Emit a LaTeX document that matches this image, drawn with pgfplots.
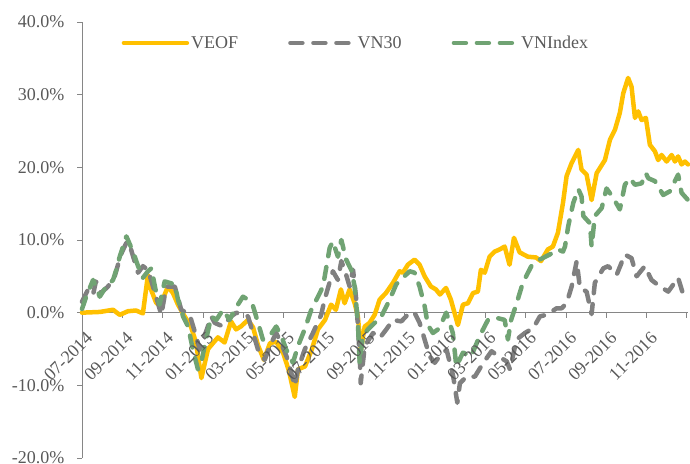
\documentclass[border=0pt]{standalone}
\usepackage{fontspec}
\setmainfont{Liberation Serif}
\usepackage{pgfplots}
\pgfplotsset{compat=1.18}
\definecolor{veof}{RGB}{255,192,0}
\definecolor{vnthirty}{RGB}{128,128,128}
\definecolor{vnindex}{RGB}{112,163,115}
\definecolor{axisgray}{RGB}{134,134,134}
\definecolor{textgray}{RGB}{89,89,89}
\tikzset{xl/.style={rotate=45, anchor=north east, inner sep=0pt, font=\fontsize{18}{20}\selectfont, text=textgray}}
\begin{document}
\begin{tikzpicture}
\useasboundingbox (0,0) rectangle (690pt,463pt);
\begin{axis}[
  at={(82pt,5pt)}, anchor=south west,
  scale only axis, width=606pt, height=436pt,
  xmin=0, xmax=30.05, ymin=-20, ymax=40,
  axis y line=left, axis x line=middle,
  hide obscured x ticks=false,
  axis line style={-, draw=axisgray, line width=1pt},
  every inner x axis line/.append style={-},
  every outer y axis line/.append style={-},
  tick align=outside, major tick length=5pt,
  tick style={draw=axisgray, line width=1pt},
  ytick={-20,-10,0,10,20,30,40},
  yticklabels={-20.0\%,-10.0\%,0.0\%,10.0\%,20.0\%,30.0\%,40.0\%},
  xtick={0,2,4,6,8,10,12,14,16,18,20,22,24,26,28,30},
  xticklabels={,,,,,,,,,,,,,,,},
  ticklabel style={font=\fontsize{18}{20}\selectfont, text=textgray},
  yticklabel style={xshift=-9pt},
  legend style={draw=none, fill=none, at={(0.452,0.952)}, anchor=center,
    font=\fontsize{18}{20}\selectfont, text=textgray,
    /tikz/every even column/.append style={column sep=48pt}},
  legend columns=-1,
  legend image code/.code={\draw[#1] (0pt,0pt) -- (63pt,0pt);},
  clip=false,
]
\addplot[veof, line width=4.5pt, line join=round, line cap=round] coordinates {
(0,0) (0.89,0.1) (1.54,0.4) (1.87,-0.3) (2.28,0.2) (2.68,0.3) (3.02,-0.1) (3.27,5.2) (3.42,3.2) (3.67,1.4) (3.87,0.9) (4.26,3.6) (4.51,2.7) (4.76,1.1) (5.09,-0.5) (5.40,-1.9) (5.65,-4.1) (5.92,-9.0) (6.25,-5.0) (6.74,-3.4) (7.07,-4.1) (7.39,-1.2) (7.64,-2.3) (7.88,-1.9) (8.23,-1.0) (8.48,-2.0) (8.73,-4.5) (9.02,-6.5) (9.32,-4.2) (9.62,-4.0) (9.97,-5.5) (10.26,-8.0) (10.55,-11.6) (10.71,-7.8) (11.06,-7.4) (11.39,-5.1) (11.70,-2.3) (12.05,-1.0) (12.35,1.1) (12.59,0.4) (12.84,3.2) (13.02,1.3) (13.27,3.2) (13.52,1.3) (13.68,-0.5) (13.83,-5.1) (14.02,-1.9) (14.26,-1.4) (14.51,-0.3) (14.76,1.8) (15.07,2.7) (15.42,4.1) (15.75,5.7) (15.91,5.5) (16.16,6.6) (16.49,7.3) (16.74,6.6) (16.99,5.0) (17.30,3.6) (17.55,3.2) (17.75,2.5) (18.05,3.4) (18.29,1.8) (18.64,-1.7) (18.89,1.1) (19.14,1.3) (19.39,2.7) (19.63,2.9) (19.78,5.9) (19.97,5.5) (20.21,7.7) (20.46,8.4) (20.71,8.7) (20.96,9.1) (21.20,6.6) (21.42,10.3) (21.70,8.3) (22.11,7.7) (22.51,7.6) (22.76,7.1) (23.10,8.7) (23.35,9.1) (23.60,11.0) (23.85,15.1) (24.03,18.8) (24.28,20.6) (24.61,22.4) (24.77,19.7) (25.02,19.0) (25.27,15.5) (25.52,19.2) (25.68,19.9) (25.93,21.0) (26.18,23.8) (26.43,25.2) (26.67,27.5) (26.84,30.2) (27.08,32.3) (27.25,31.1) (27.42,26.8) (27.58,27.7) (27.75,26.5) (27.96,26.8) (28.16,23.1) (28.41,22.2) (28.57,21.0) (28.74,21.7) (28.99,20.8) (29.24,21.7) (29.40,20.8) (29.56,21.5) (29.73,20.4) (29.90,20.8) (30.05,20.4)
};
\addlegendentry{VEOF}
\addplot[vnthirty, line width=4.5pt, line join=round, line cap=round, dash pattern=on 12pt off 11pt] coordinates {
(0,1.5) (0.30,3.2) (0.55,2.5) (0.69,4.3) (0.94,2.7) (1.29,3.6) (1.62,5.0) (1.93,8.0) (2.23,9.8) (2.43,8.7) (2.78,5.5) (3.02,6.4) (3.27,5.9) (3.52,3.6) (3.77,1.3) (3.93,-0.3) (4.18,3.6) (4.60,3.6) (4.92,0.4) (5.34,-0.3) (5.59,-2.6) (5.84,-5.1) (6.08,-3.2) (6.41,-0.5) (6.58,-1.4) (6.99,-1.9) (7.40,-0.5) (7.65,0) (7.90,-0.3) (8.23,-0.5) (8.48,-2.8) (8.73,-5.1) (9.06,-6.5) (9.31,-4.6) (9.63,-2.8) (9.88,-4.2) (10.21,-6.5) (10.55,-10.1) (10.71,-7.8) (11.04,-5.1) (11.45,-2.8) (11.86,-0.3) (12.03,1.8) (12.44,5.7) (12.69,4.5) (12.86,7.1) (13.10,5.2) (13.27,3.6) (13.44,5.9) (13.60,1.8) (13.77,-6.0) (13.82,-9.7) (14.02,-4.6) (14.43,-2.8) (14.76,-3.5) (15.09,-2.3) (15.42,-1.0) (15.83,-1.2) (16.25,0) (16.49,0) (16.74,-1.4) (16.99,-3.7) (17.24,-6.0) (17.49,-6.9) (17.73,-6.0) (18.08,-5.1) (18.41,-8.8) (18.61,-12.4) (18.74,-9.7) (19.07,-8.8) (19.48,-8.8) (19.90,-6.9) (20.31,-5.3) (20.64,-6.0) (21.06,-6.7) (21.22,-7.8) (21.55,-3.7) (21.96,-2.8) (22.38,-2.1) (22.71,-0.5) (23.04,-0.3) (23.53,0.6) (23.78,0.6) (24.03,1.3) (24.28,3.6) (24.53,7.1) (24.69,3.4) (25.02,2.9) (25.27,-0.2) (25.43,4.1) (25.85,6.1) (26.09,6.4) (26.51,5.2) (26.92,8.0) (27.25,7.5) (27.50,5.0) (27.91,6.4) (28.24,4.5) (28.66,3.6) (29.07,2.9) (29.56,4.8) (29.81,2.5) (30.05,2.2)
};
\addlegendentry{VN30}
\addplot[vnindex, line width=4.5pt, line join=round, line cap=round, dash pattern=on 12pt off 11pt] coordinates {
(0,0.5) (0.21,2.2) (0.55,4.5) (0.88,2.2) (1.20,3.6) (1.54,4.5) (1.70,5.9) (1.87,7.7) (2.20,10.5) (2.53,8.4) (2.78,6.4) (3.02,4.8) (3.27,5.7) (3.44,6.1) (3.68,2.7) (3.85,1.1) (4.10,4.3) (4.60,3.9) (4.76,1.8) (5.01,-0.5) (5.26,-1.9) (5.50,-5.1) (5.75,-7.8) (5.91,-6.9) (6.08,-4.6) (6.41,-0.5) (6.66,-1.0) (6.99,0.4) (7.32,-1.0) (7.57,0.4) (7.98,2.2) (8.23,1.8) (8.48,0.9) (8.73,-1.4) (8.97,-3.7) (9.31,-3.2) (9.63,-1.9) (9.88,-3.2) (10.13,-5.1) (10.46,-6.9) (10.71,-4.6) (11.04,-2.3) (11.37,0.4) (11.70,2.2) (11.95,3.6) (12.28,8.9) (12.44,9.8) (12.69,7.7) (12.86,10.0) (13.10,7.3) (13.35,5.9) (13.52,3.6) (13.68,-1.4) (13.77,-6.9) (13.93,-3.2) (14.18,-2.3) (14.51,-1.4) (14.76,-1.0) (15.01,0.4) (15.26,1.8) (15.58,3.9) (15.91,4.8) (16.25,5.7) (16.49,5.5) (16.74,3.6) (16.99,0.9) (17.15,-1.7) (17.40,-2.8) (17.65,-2.3) (17.90,-1.0) (18.06,0) (18.39,-2.8) (18.56,-7.4) (18.89,-5.5) (19.30,-6.0) (19.72,-3.2) (20.13,-1.0) (20.54,-0.7) (20.96,-1.0) (21.12,-3.7) (21.28,-1.0) (21.53,1.1) (21.86,4.1) (22.28,6.4) (22.69,7.3) (23.19,8.0) (23.60,8.7) (23.85,8.4) (23.95,9.1) (24.11,11.9) (24.36,15.1) (24.61,17.0) (24.77,16.0) (24.86,13.3) (25.19,12.3) (25.27,9.1) (25.43,13.3) (25.77,14.4) (26.01,17.1) (26.34,15.8) (26.67,14.2) (26.92,17.6) (27.17,18.5) (27.42,17.6) (27.75,17.8) (27.96,19.2) (28.08,18.5) (28.41,18.1) (28.82,16.2) (29.15,16.7) (29.56,19.0) (29.73,16.5) (30.05,15.5)
};
\addlegendentry{VNIndex}
\node[xl] at ([xshift=3pt,yshift=-18pt]axis cs:0,0) {07-2014};
\node[xl] at ([xshift=3pt,yshift=-18pt]axis cs:2,0) {09-2014};
\node[xl] at ([xshift=3pt,yshift=-18pt]axis cs:4,0) {11-2014};
\node[xl] at ([xshift=3pt,yshift=-18pt]axis cs:6,0) {01-2015};
\node[xl] at ([xshift=3pt,yshift=-18pt]axis cs:8,0) {03-2015};
\node[xl] at ([xshift=3pt,yshift=-18pt]axis cs:10,0) {05-2015};
\node[xl] at ([xshift=3pt,yshift=-18pt]axis cs:12,0) {07-2015};
\node[xl] at ([xshift=3pt,yshift=-18pt]axis cs:14,0) {09-2015};
\node[xl] at ([xshift=3pt,yshift=-18pt]axis cs:16,0) {11-2015};
\node[xl] at ([xshift=3pt,yshift=-18pt]axis cs:18,0) {01-2016};
\node[xl] at ([xshift=3pt,yshift=-18pt]axis cs:20,0) {03-2016};
\node[xl] at ([xshift=3pt,yshift=-18pt]axis cs:22,0) {05-2016};
\node[xl] at ([xshift=3pt,yshift=-18pt]axis cs:24,0) {07-2016};
\node[xl] at ([xshift=3pt,yshift=-18pt]axis cs:26,0) {09-2016};
\node[xl] at ([xshift=3pt,yshift=-18pt]axis cs:28,0) {11-2016};
\end{axis}
\end{tikzpicture}
\end{document}
